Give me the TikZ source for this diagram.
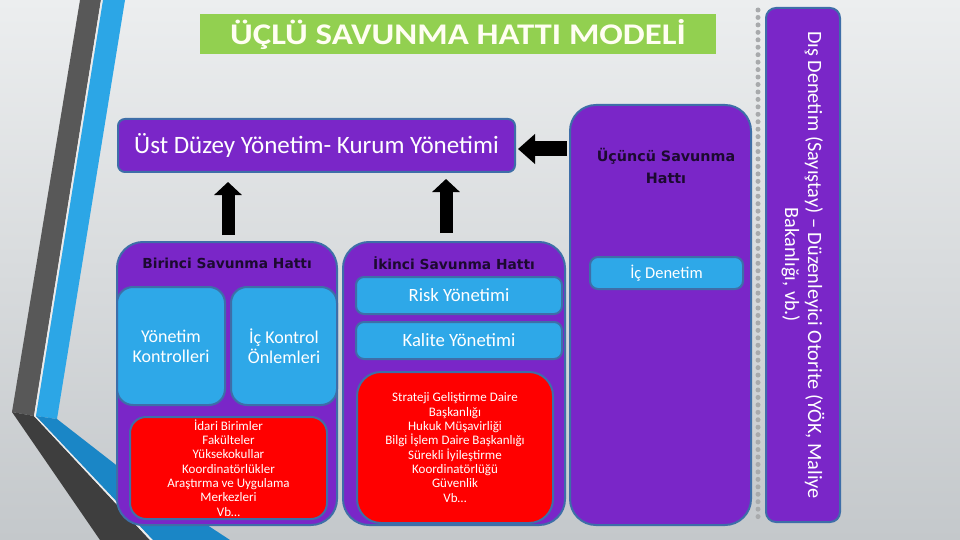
\documentclass[tikz,border=0pt]{standalone}
\usepackage{fontspec}
\setmainfont{Carlito}
\newfontfamily\hdrfont{DejaVu Sans}
\usetikzlibrary{arrows.meta,calc}
\definecolor{purp}{RGB}{122,38,200}
\definecolor{lblue}{RGB}{46,168,232}
\definecolor{bord}{RGB}{62,110,168}
\definecolor{tgreen}{RGB}{146,208,80}
\definecolor{hdark}{RGB}{28,10,48}
\definecolor{bgtop}{RGB}{236,238,239}
\definecolor{bgbot}{RGB}{196,200,203}
\definecolor{dgrey}{RGB}{88,88,88}
\definecolor{dgrey2}{RGB}{62,62,62}
\definecolor{sblue}{RGB}{44,166,230}
\definecolor{sblue2}{RGB}{26,134,198}
\definecolor{dotgrey}{RGB}{168,170,172}
\tikzset{
  pbox/.style={draw=bord, line width=2pt, fill=purp, inner sep=0pt},
  bbox/.style={draw=bord, line width=2pt, fill=lblue, inner sep=0pt, text=white, align=center},
  rbox/.style={draw=bord, line width=2pt, fill=red, inner sep=0pt, text=white, align=center, rounded corners=16pt},
  hdr/.style={text=hdark, font=\hdrfont\fontsize{13.8}{22}\selectfont\bfseries, align=center, inner sep=0pt},
  blockarrow/.style={line width=13pt, -{Triangle[width=27pt,length=13pt]}},
}
\begin{document}
\begin{tikzpicture}[x=1pt,y=-1pt]
\useasboundingbox (0,0) rectangle (960,540);
\shade[top color=bgtop, bottom color=bgbot] (0,0) rectangle (960,540);
% left decoration
\fill[dgrey] (80,0) -- (101,0) -- (34,416) -- (12,412) -- cycle;
\fill[dgrey2] (12,412) -- (34,416) -- (150,540) -- (100,540) -- cycle;
\fill[white!85!gray] (101,0) -- (103,0) -- (36,416) -- (153,540) -- (150,540) -- (34,416) -- cycle;
\fill[sblue] (103,0) -- (125,0) -- (57,419) -- (36,416) -- cycle;
\fill[sblue2] (36,416) -- (57,419) -- (120,468) -- (230,540) -- (153,540) -- cycle;
% title
\node[fill=tgreen, minimum width=516pt, minimum height=40pt, inner sep=0pt, text=white!95!yellow,
      font=\fontsize{30}{32}\selectfont\bfseries] (title) at (458,34) {\scalebox{1.16}[1]{ÜÇLÜ SAVUNMA HATTI MODELİ}};
% top box
\node[pbox, rounded corners=7pt, minimum width=397pt, minimum height=53pt, text=white,
      font=\fontsize{25}{28}\selectfont] (ust) at (316.5,145.5) {Üst Düzey Yönetim- Kurum Yönetimi};
% first line
\node[pbox, rounded corners=26pt, minimum width=220pt, minimum height=283pt] (birinci) at (227,383.5) {};
\node[hdr] (birincih) at (227,263) {Birinci Savunma Hattı};
\node[bbox, rounded corners=16pt, minimum width=108pt, minimum height=118pt,
      font=\fontsize{18}{20}\selectfont] (yonetim) at (171,346) {Yönetim\\Kontrolleri};
\node[bbox, rounded corners=16pt, minimum width=106pt, minimum height=118pt,
      font=\fontsize{18}{20}\selectfont] (ickontrol) at (284,346) {İç Kontrol\\Önlemleri};
\node[rbox, minimum width=197pt, minimum height=102pt,
      font=\fontsize{13}{14.3}\selectfont] (birimler) at (228.5,468) {İdari Birimler\\Fakülteler\\Yüksekokullar\\Koordinatörlükler\\Araştırma ve Uygulama\\Merkezleri\\Vb…};
% second line
\node[pbox, rounded corners=26pt, minimum width=222pt, minimum height=283pt] (ikinci) at (454,383.5) {};
\node[hdr] (ikincih) at (454,263) {İkinci Savunma Hattı};
\node[bbox, rounded corners=8pt, minimum width=206pt, minimum height=37pt,
      font=\fontsize{18.7}{20}\selectfont] (risk) at (459,295.5) {Risk Yönetimi};
\node[bbox, rounded corners=8pt, minimum width=206pt, minimum height=37pt,
      font=\fontsize{18.7}{20}\selectfont] (kalite) at (459,340.5) {Kalite Yönetimi};
\node[rbox, rounded corners=24pt, minimum width=196pt, minimum height=151pt,
      font=\fontsize{13}{14.3}\selectfont] (birimler2) at (455,447.5) {Strateji Geliştirme Daire\\Başkanlığı\\Hukuk Müşavirliği\\Bilgi İşlem Daire Başkanlığı\\Sürekli İyileştirme\\Koordinatörlüğü\\Güvenlik\\Vb…};
% third line
\node[pbox, rounded corners=26pt, minimum width=181pt, minimum height=420pt] (ucuncu) at (660.5,315) {};
\node[hdr, font=\hdrfont\fontsize{14.3}{22}\selectfont\bfseries] (ucuncuh) at (666,166) {Üçüncü Savunma\\Hattı};
\node[bbox, rounded corners=8pt, minimum width=153pt, minimum height=32pt,
      font=\fontsize{16.5}{20}\selectfont] (icdenetim) at (666.5,273) {İç Denetim};
% dotted separator
\draw[dotgrey, line width=5pt, line cap=round, dash pattern=on 0pt off 7.45pt] (758,10) -- (758,522);
% external audit
\node[pbox, rounded corners=10pt, minimum width=74pt, minimum height=514pt] (dis) at (803,265) {};
\node[rotate=-90, text=white, align=center, inner sep=0pt, font=\fontsize{20.3}{23}\selectfont] (distxt) at (dis)
  {Dış Denetim (Sayıştay) – Düzenleyici Otorite (YÖK, Maliye\\Bakanlığı, vb.)};
% arrows
\coordinate (a1s) at ($(birinci.north)+(1,0)$);
\coordinate (a1e) at (a1s |- ust.south);
\draw[blockarrow, shorten <=6pt, shorten >=9pt] (a1s) -- (a1e);
\coordinate (a2s) at ($(ikinci.north)+(-8,0)$);
\coordinate (a2e) at (a2s |- ust.south);
\draw[blockarrow, shorten <=8pt, shorten >=6pt] (a2s) -- (a2e);
\coordinate (a3s) at ($(ucuncu.west |- ust.east)+(0,3.5)$);
\coordinate (a3e) at ($(ust.east)+(0,3.5)$);
\draw[line width=15pt, -{Triangle[width=29pt,length=17pt]}, shorten <=2pt, shorten >=2pt] (a3s) -- (a3e);
\end{tikzpicture}
\end{document}
